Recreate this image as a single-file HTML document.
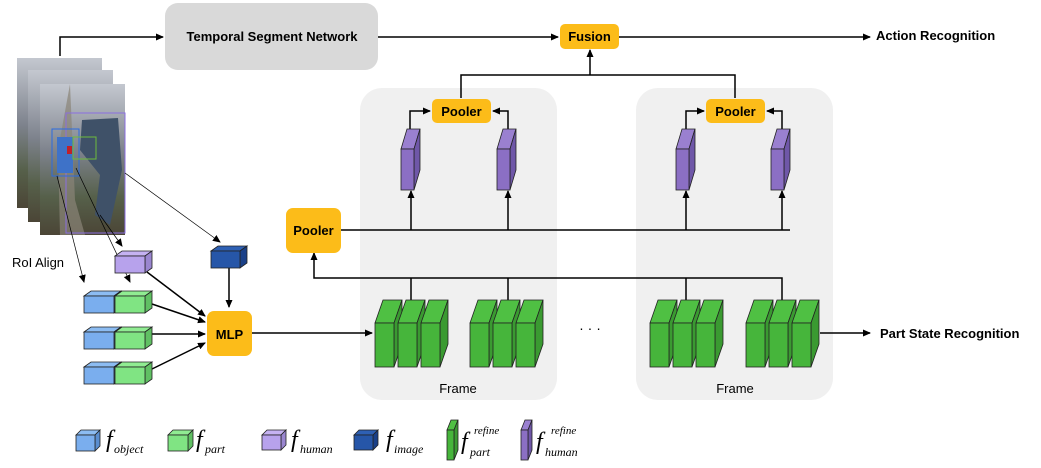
<!DOCTYPE html>
<html><head><meta charset="utf-8"><style>
body{margin:0;background:#fff;width:1041px;height:468px;overflow:hidden}
svg{display:block}
.b{font-family:"Liberation Sans",sans-serif;font-weight:bold;font-size:13px}
.s{font-family:"Liberation Serif",serif;font-style:italic}
</style></head><body>
<svg id="s" width="1041" height="468" viewBox="0 0 1041 468" xmlns="http://www.w3.org/2000/svg">
<defs>
<marker id="a" markerWidth="8" markerHeight="8" refX="7" refY="4" orient="auto" markerUnits="userSpaceOnUse"><path d="M0,0.5 L8,4 L0,7.5z" fill="#000"/></marker>
<linearGradient id="ph" x1="0" y1="0" x2="0" y2="1"><stop offset="0" stop-color="#c4c8d0"/><stop offset="0.45" stop-color="#7d828c"/><stop offset="0.75" stop-color="#56604a"/><stop offset="1" stop-color="#4b4536"/></linearGradient>
</defs>
<!-- panels -->
<rect x="360" y="88" width="197" height="312" rx="22" fill="#f0f0f0"/>
<rect x="636" y="88" width="197" height="312" rx="22" fill="#f0f0f0"/>
<!-- TSN -->
<rect x="165" y="3" width="213" height="67" rx="13" fill="#d9d9d9"/>
<text x="272" y="41" class="b" text-anchor="middle">Temporal Segment Network</text>
<!-- photo -->
<rect x="17" y="58" width="85" height="150" fill="url(#ph)"/>
<rect x="28" y="70" width="85" height="152" fill="url(#ph)"/>
<rect x="40" y="84" width="85" height="151" fill="url(#ph)"/>
<path d="M70 84 L75 200 L85 235 L60 235 L58 150z" fill="#8a8478" opacity="0.7"/>
<path d="M82 120 L118 118 L122 170 L110 225 L95 215 L100 175 L80 150z" fill="#3f5168"/>
<rect x="66" y="113" width="59" height="120" fill="none" stroke="#8a6ee0" stroke-width="1"/>
<rect x="52" y="129" width="27" height="47" fill="none" stroke="#2b6be0"/>
<rect x="57" y="137" width="16" height="36" fill="#3e72c8"/>
<rect x="73" y="137" width="23" height="22" fill="none" stroke="#6cbb3c"/>
<rect x="67" y="146" width="5" height="8" fill="#c0202a"/>
<g stroke="#000" fill="none" stroke-width="1.5">
<path d="M60 56 V37 H163" marker-end="url(#a)"/>
<path d="M378 37 H558" marker-end="url(#a)"/>
<path d="M619 37 H870" marker-end="url(#a)"/>
<path d="M461 98 V75 H735 V98"/>
<path d="M590 75 V50" marker-end="url(#a)"/>
<path d="M410 130 V111 H430" marker-end="url(#a)"/>
<path d="M508 130 V111 H493" marker-end="url(#a)"/>
<path d="M686 130 V111 H704" marker-end="url(#a)"/>
<path d="M782 130 V111 H767" marker-end="url(#a)"/>
<path d="M340 230 H790"/>
<path d="M411 230 V191" marker-end="url(#a)"/>
<path d="M508 230 V191" marker-end="url(#a)"/>
<path d="M686 230 V191" marker-end="url(#a)"/>
<path d="M782 230 V191" marker-end="url(#a)"/>
<path d="M782 300 V278 H314 V253" marker-end="url(#a)"/>
<path d="M411 278 V300 M508 278 V300 M686 278 V300"/>
<path d="M252 333 H372" marker-end="url(#a)"/>
<path d="M820 333 H870" marker-end="url(#a)"/>
<path d="M229 268 V307" marker-end="url(#a)"/>
<path d="M147 272 L205 316" marker-end="url(#a)"/>
<path d="M152 304 L205 322" marker-end="url(#a)"/>
<path d="M152 334 H205" marker-end="url(#a)"/>
<path d="M152 369 L205 343" marker-end="url(#a)"/>
</g>
<g stroke="#000" fill="none" stroke-width="0.7">
<path d="M125 173 L220 242" marker-end="url(#a)"/>
<path d="M57 176 L84 282" marker-end="url(#a)"/>
<path d="M76 168 L130 282" marker-end="url(#a)"/>
<path d="M100 215 L122 246" marker-end="url(#a)"/>
</g>
<!-- boxes -->
<rect x="560" y="24" width="59" height="25" rx="5" fill="#fcbc19"/>
<text x="589.5" y="41" class="b" text-anchor="middle" font-size="12">Fusion</text>
<rect x="432" y="99" width="59" height="24" rx="5" fill="#fcbc19"/>
<text x="461.5" y="116" class="b" text-anchor="middle" font-size="12">Pooler</text>
<rect x="706" y="99" width="59" height="24" rx="5" fill="#fcbc19"/>
<text x="735.5" y="116" class="b" text-anchor="middle" font-size="12">Pooler</text>
<rect x="286" y="208" width="55" height="45" rx="7" fill="#fcbc19"/>
<text x="313.5" y="235" class="b" text-anchor="middle" font-size="14">Pooler</text>
<rect x="207" y="311" width="45" height="45" rx="7" fill="#fcbc19"/>
<text x="229.5" y="339" class="b" text-anchor="middle" font-size="15">MLP</text>
<g id="cubes"></g>
<text x="876" y="40" class="b">Action Recognition</text>
<text x="880" y="338" class="b">Part State Recognition</text>
<text x="12" y="267" font-family="Liberation Sans,sans-serif" font-size="13">RoI Align</text>
<text x="458" y="393" text-anchor="middle" font-family="Liberation Sans,sans-serif" font-size="13">Frame</text>
<text x="735" y="393" text-anchor="middle" font-family="Liberation Sans,sans-serif" font-size="13">Frame</text>
<text x="590" y="333" text-anchor="middle" font-family="Liberation Sans,sans-serif" font-size="14">· · ·</text>
<!-- legend -->
<g font-size="24" class="s">
<text x="106" y="447">f</text><text x="114" y="453" font-size="12">object</text>
<text x="196" y="447">f</text><text x="205" y="453" font-size="12">part</text>
<text x="291" y="447">f</text><text x="300" y="453" font-size="12">human</text>
<text x="386" y="447">f</text><text x="394" y="453" font-size="12">image</text>
<text x="461" y="449">f</text><text x="470" y="456" font-size="12">part</text><text x="474" y="434" font-size="11">refine</text>
<text x="536" y="449">f</text><text x="545" y="456" font-size="12">human</text><text x="551" y="434" font-size="11">refine</text>
</g>
</svg>
<script>
var g=document.getElementById('cubes'),h='';
function c(x,y,w,ht,dx,dy,f,d,t){
h+='<polygon points="'+x+','+(y+dy)+' '+(x+dx)+','+y+' '+(x+w+dx)+','+y+' '+(x+w)+','+(y+dy)+'" fill="'+t+'" stroke="#222" stroke-width="0.8"/>';
h+='<polygon points="'+(x+w)+','+(y+dy)+' '+(x+w+dx)+','+y+' '+(x+w+dx)+','+(y+ht)+' '+(x+w)+','+(y+dy+ht)+'" fill="'+d+'" stroke="#222" stroke-width="0.8"/>';
h+='<rect x="'+x+'" y="'+(y+dy)+'" width="'+w+'" height="'+ht+'" fill="'+f+'" stroke="#222" stroke-width="0.8"/>';}
var G=['#46b53b','#3a9a31','#4fc043'],P=['#8b6fc4','#6f57a8','#9a80d0'],B=['#7aaeee','#5a8ed0','#8cbcf2'],Gl=['#80e483','#60c063','#90ec92'],L=['#b7a2ec','#9a86d0','#c5b2f2'],D=['#2656a8','#1a4088','#2e60b4'];
[375,470,650,746].forEach(function(x){for(var i=0;i<3;i++)c(x+i*23,300,19,44,8,23,G[0],G[1],G[2]);});
[401,497,676,771].forEach(function(x){c(x,129,13,41,6,20,P[0],P[1],P[2]);});
[287,323,358].forEach(function(y){c(84,y+4,30,17,7,5,B[0],B[1],B[2]);c(115,y+4,30,17,7,5,Gl[0],Gl[1],Gl[2]);});
c(115,251,30,17,7,5,L[0],L[1],L[2]);c(211,246,29,17,7,5,D[0],D[1],D[2]);
c(76,430,19,16,5,5,B[0],B[1],B[2]);c(168,430,20,16,5,5,Gl[0],Gl[1],Gl[2]);
c(262,430,19,15,5,5,L[0],L[1],L[2]);c(354,430,19,15,5,5,D[0],D[1],D[2]);
c(447,420,7,30,4,10,G[0],G[1],G[2]);c(521,420,7,30,4,10,P[0],P[1],P[2]);
g.innerHTML=h;
</script>
</body></html>
